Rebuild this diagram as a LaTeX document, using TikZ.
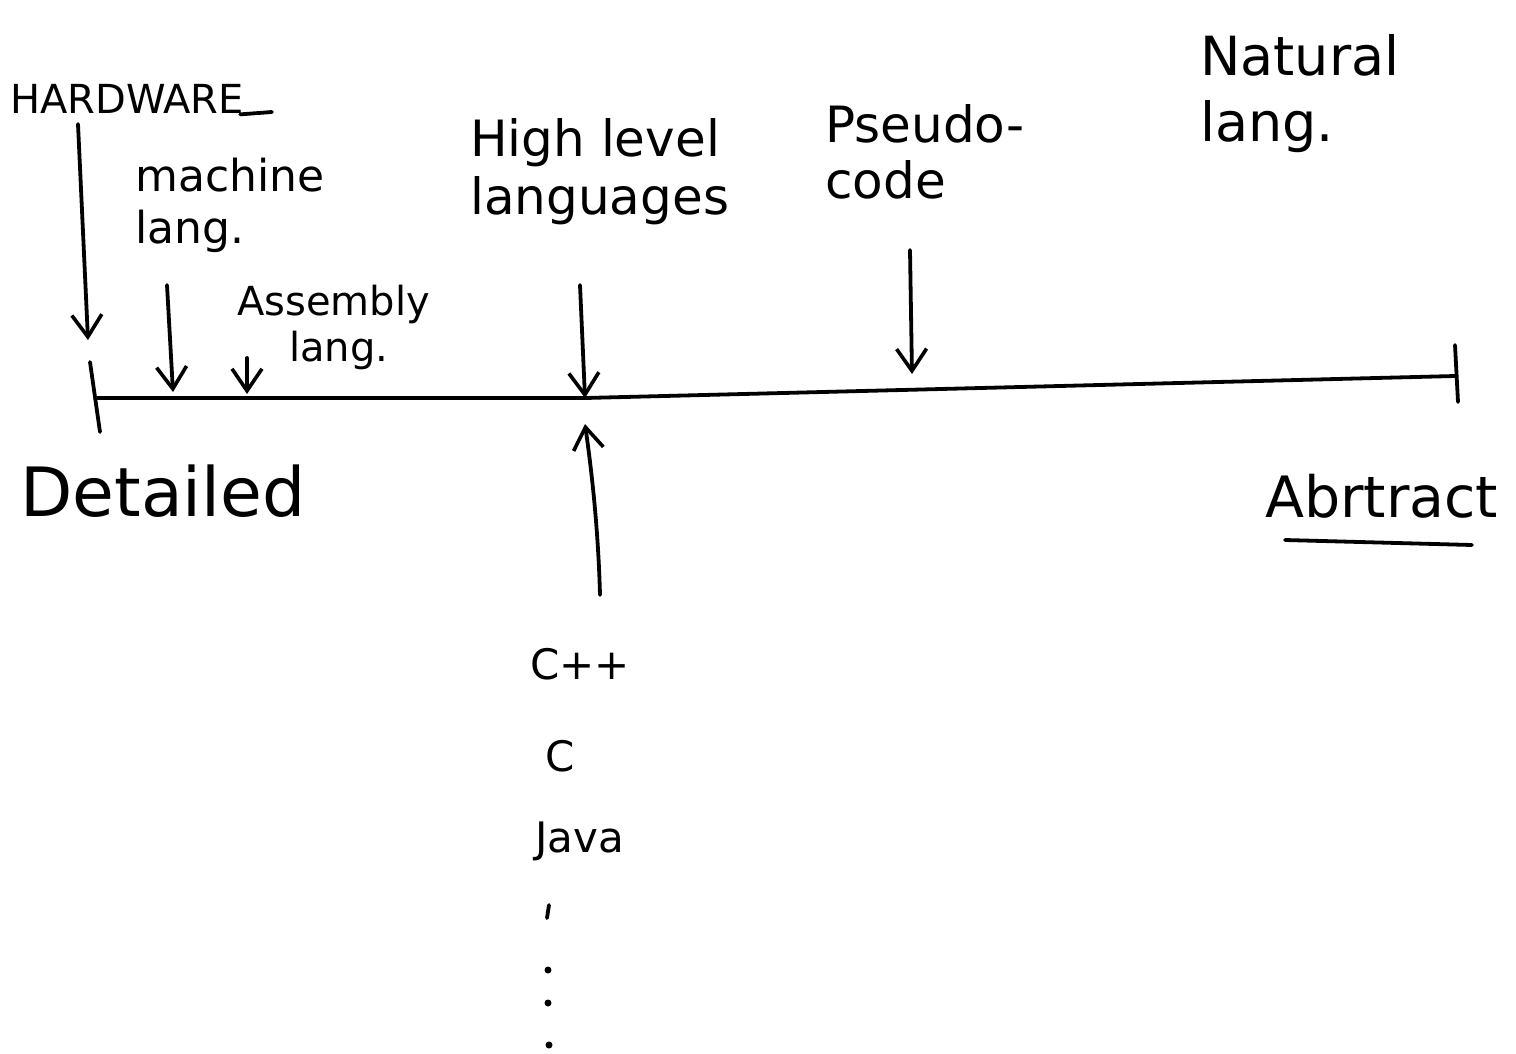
\documentclass[tikz,border=0pt]{standalone}
\usepackage{fontspec}
\setmainfont{DejaVu Sans}
\usetikzlibrary{arrows.meta}
\begin{document}
\begin{tikzpicture}[x=1pt,y=-1pt,
  ink/.style={line width=3.8pt,line cap=round,line join=round},
  arr/.style={ink,-{Straight Barb[length=22pt,width=30pt,line width=3.6pt]}},
  lbl/.style={anchor=north west,inner sep=0pt,align=left,font=\fontsize{44}{52}\selectfont},
  dotmark/.style={fill,circle,inner sep=0pt,minimum size=7pt}]
\useasboundingbox (0,0) rectangle (1516,1053);
% axis
\coordinate (L) at (95,398);
\coordinate (M) at (585,398);
\coordinate (R) at (1455,376);
\draw[ink] (L) -- (M) -- (R);
\coordinate (Lt) at (90,362); \coordinate (Lb) at (100,432);
\draw[ink] (Lt) -- (Lb);
\coordinate (Rt) at (1455,345); \coordinate (Rb) at (1458,402);
\draw[ink] (Rt) -- (Rb);
% labels
\node[lbl,font=\fontsize{40}{44}\selectfont] (hw) at (10,84) {HARDWARE};
\coordinate (hwu1) at ([xshift=-4pt,yshift=-1pt]hw.base east); \coordinate (hwu2) at (272,112);
\draw[ink] (hwu1) -- (hwu2);
\node[lbl] (ml) at (135,158) {machine\\lang.};
\node[lbl,font=\fontsize{40}{50}\selectfont] (al) at (237,285) {Assembly\\[-4pt]\hspace{52pt}lang.};
\node[lbl,font=\fontsize{50}{58}\selectfont] (hl) at (470,118) {High level\\languages};
\node[lbl,font=\fontsize{50}{56}\selectfont] (pc) at (825,104) {Pseudo-\\code};
\node[lbl,font=\fontsize{54}{66}\selectfont] (nl) at (1200,34) {Natural\\ lang.};
\node[lbl,font=\fontsize{68}{72}\selectfont] (dt) at (20,465) {Detailed};
\node[lbl,font=\fontsize{57}{60}\selectfont] (ab) at (1265,474) {Abrtract};
\coordinate (abu1) at (1285,540); \coordinate (abu2) at (1472,545);
\draw[ink] (abu1) -- (abu2);
\node[lbl,font=\fontsize{42}{50}\selectfont] (cpp) at (530,648) {C++};
\node[lbl,font=\fontsize{42}{50}\selectfont] (c) at (545,740) {C};
\node[lbl,font=\fontsize{42}{50}\selectfont] (java) at (535,822) {Java};
% arrows
\coordinate (hwS) at (78,124); \coordinate (hwE) at (88,340);
\draw[arr] (hwS) -- (hwE);
\coordinate (mlS) at (167,285); \coordinate (mlE) at (173,392);
\draw[arr] (mlS) -- (mlE);
\coordinate (alS) at (247,358); \coordinate (alE) at (247,394);
\draw[arr] (alS) -- (alE);
\coordinate (hlS) at (580,285); \coordinate (hlE) at (M);
\draw[arr] (hlS) -- (hlE);
\coordinate (pcS) at (910,250); \coordinate (pcE) at (912,374);
\draw[arr] (pcS) -- (pcE);
\coordinate (upS) at (600,595); \coordinate (upE) at (585,424);
\draw[arr] (upS) .. controls (598,520) and (590,460) .. (upE);
% dots
\coordinate (d0a) at (549,905); \coordinate (d0b) at (547,918);
\draw[ink] (d0a) -- (d0b);
\node[dotmark] (d1) at (548,970) {};
\node[dotmark] (d2) at (548,1003) {};
\node[dotmark] (d3) at (549,1045) {};
\end{tikzpicture}
\end{document}
